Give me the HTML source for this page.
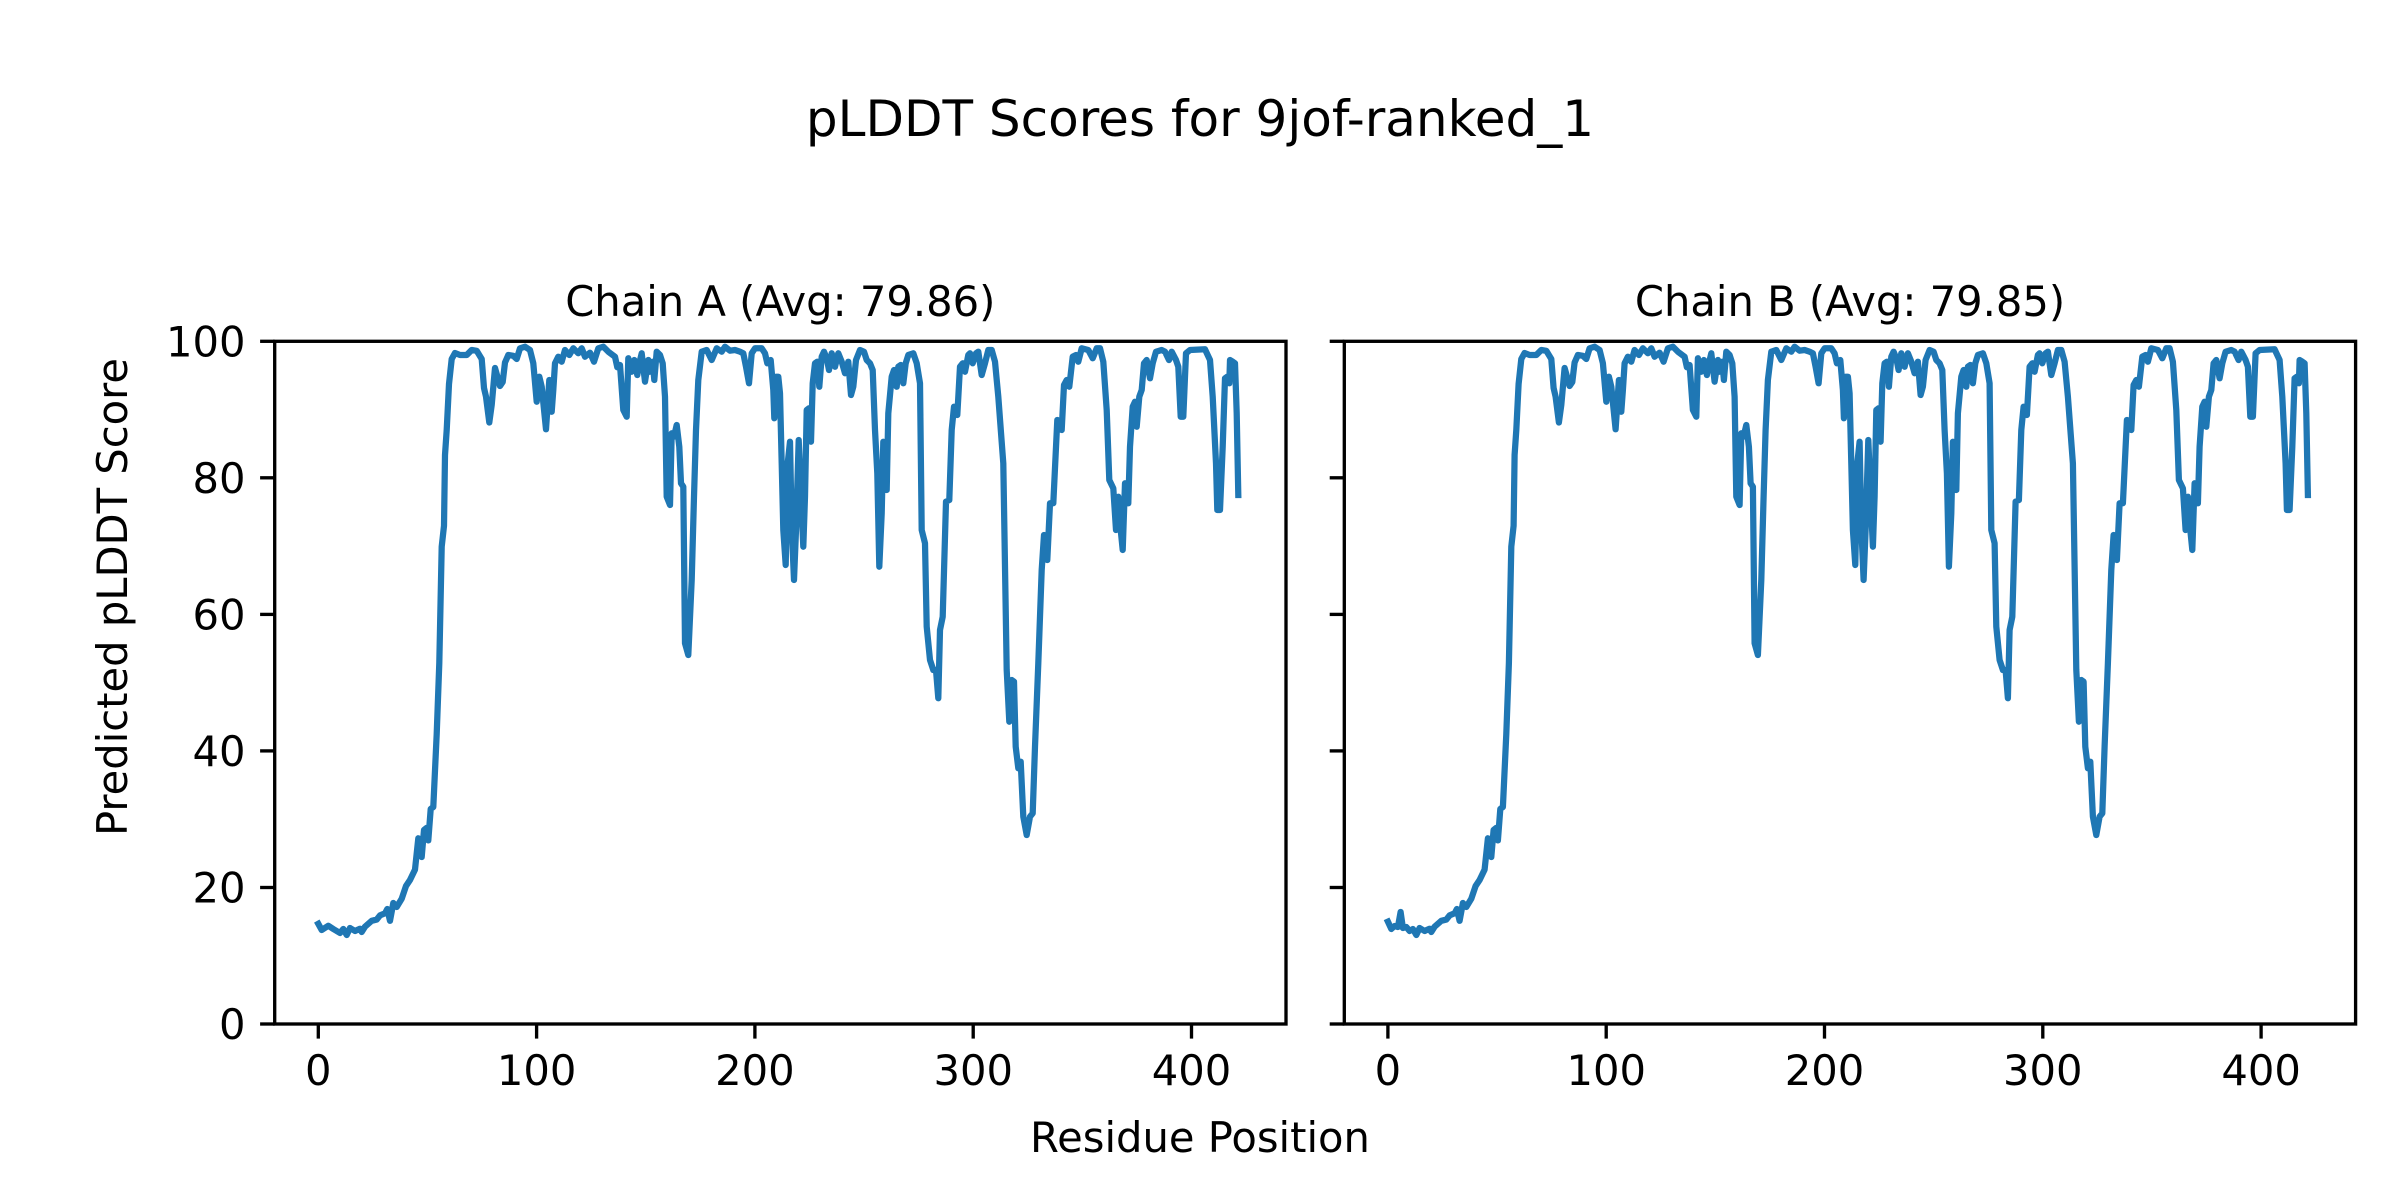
<!DOCTYPE html>
<html>
<head>
<meta charset="utf-8">
<style>
  html, body { margin: 0; padding: 0; background: #ffffff; }
  body { width: 2400px; height: 1200px; overflow: hidden; }
  svg { display: block; }
  text { font-family: "DejaVu Sans", "Liberation Sans", sans-serif; fill: #000; }
</style>
</head>
<body>
<svg width="2400" height="1200" viewBox="0 0 2400 1200" xmlns="http://www.w3.org/2000/svg">
  <rect x="0" y="0" width="2400" height="1200" fill="#ffffff"/>

  <!-- Suptitle -->
  <text x="1200" y="136" font-size="50" text-anchor="middle">pLDDT Scores for 9jof-ranked_1</text>

  <!-- Subplot titles -->
  <text x="780.3" y="316" font-size="41.67" text-anchor="middle">Chain A (Avg: 79.86)</text>
  <text x="1850" y="316" font-size="41.67" text-anchor="middle">Chain B (Avg: 79.85)</text>

  <!-- Left data line -->
  <polyline fill="none" stroke="#1f77b4" stroke-width="6.25" stroke-linejoin="round" stroke-linecap="square"
    points="318.3,923.8 321.7,930 328.3,925.8 333.3,929 340,933 343.3,929 346.7,935 350,928 355,931 360,928.7 361.7,932 365,926.7 371.7,920.8 376.7,919.6 380,915.4 385,913.3 387.3,909 390,920.8 393.3,903 396.7,907 401.7,898.75 406,886 410,880 415,869.6 418.3,838.3 421.7,857 424,830 426.7,827.9 428.3,840.4 430.7,809 433.3,807 436.7,734 439.3,663 441.7,546.7 444,525.8 445,455 446.7,430 449,384 451.7,359 455,353 460,355 466.7,355 471.7,350 476.7,350.8 481.7,359 484,388 486,396.7 489.3,422.5 491.7,405 495,368 500,386 502.7,382 505,362.5 508.3,355 513.3,355.8 516.7,359 520,348.3 525,346.7 530,350 533.3,363.3 536.7,401.7 539.3,376.7 541.7,386.7 546,429.3 549.3,380 551.7,411.7 553.3,390 555,363.3 558.3,356.7 561.7,361.7 565,350 569.3,355 573.3,348.3 578.3,353.3 581.7,348.3 585,356.7 590,352.7 594,361.7 598.3,348.3 603.3,346.7 608.3,351.7 615,356.7 617.3,367.3 620,365 623.3,410 626.7,416.7 628.3,358.3 631.7,371.7 634.3,360 637.3,375 639.3,363.3 641.7,353.3 645,381.7 648.3,360 650,371.7 652.7,361.7 654.3,380 656.7,351.7 660,355 662.7,363.3 665,396.7 666.7,496.7 670,505 671.7,433.3 674,436.7 676.7,425 679.3,446.7 681,483.3 683.3,486.7 685,643.3 688.3,655 691.7,580 694,496.7 696,430 698.3,380 701.7,351.7 706.7,350 711.7,360 716.7,348.3 721.7,351.7 725,346.7 730,350.7 735,350 740,351.7 743.3,353.3 746,366.7 749,383.3 751.7,353.3 755,348.3 761.7,348.3 765,353.3 767.3,363.3 770.7,360 773.3,390 774.3,418.3 776,376.7 778.3,376.7 780,393.3 781.7,463.3 783.3,530 785.7,565 787.7,463.3 790,441.7 791.7,526.7 794,580 796,530 798.7,440 801,496.7 803.3,546.7 805,496.7 806.7,410 809,408.3 811,441.7 812.7,383.3 815,363.3 817.3,361.7 819.3,386.7 821.7,356.7 824,351.7 826.7,358.3 829,370 831.7,353.3 835,366.7 838.3,353.3 841.7,361.7 845,373.3 848.3,361.7 851,395 853.3,386.7 856,360 860,350 864,351.7 866.7,360 870,363.3 872.7,370 875,430 877.3,473.3 879.3,566.7 881.7,513.3 883.3,441.7 886.7,490 888.3,413.3 891.7,376.7 894,370 896.7,386.7 898.3,366.7 900.7,365 903.3,383.3 905.7,363.3 908.3,355 913.3,353.3 916.7,363.3 920,383.3 921.7,530 925,543.3 926.7,626.7 930,660 933.3,670 936,670 938.3,698.3 940,630 942.7,616.7 946,501.7 949.3,500 951.7,430 954,406.7 957.3,415 960,366.7 962.7,363.3 965,371.7 968.3,355 970,353.3 972.7,363.3 976,353.3 978.3,351.7 981.7,375 985,363.3 988.3,350 991.7,350 995,361.7 998.3,396.7 1003.3,463.3 1006.7,670 1009.3,721.7 1011.7,680 1014,681.7 1015.7,746.7 1018.3,768.3 1020.7,761.7 1023.3,816.7 1026.7,835 1030,816.7 1032.7,813.3 1035,746.7 1038.3,663.3 1041.7,570 1044,535 1047.3,560 1050,503.3 1053.3,503.3 1057.3,420 1061.7,430 1064,385 1066.7,380 1069.3,386.7 1072.7,356.7 1076,355 1078.3,361.7 1081.7,348.3 1088.3,350 1092.7,358.3 1096.7,348.3 1100,348.3 1103.3,361.7 1106.7,410 1109.3,480 1113.3,488.3 1116,530 1118.3,496.7 1120.7,530 1122.7,550 1125,483.3 1128.3,503.3 1130,446.7 1132.7,406.7 1135,401.7 1136.7,426.7 1139.3,396.7 1141.7,390 1144,363.3 1146.7,360 1150,378.3 1152.7,363.3 1156,351.7 1161.7,350 1165,351.7 1169,360 1171.7,351.7 1176,360 1178.3,366.7 1180.7,416.7 1183.3,416.7 1186,353.3 1190,350 1205,349.3 1210,360 1212.7,396.7 1216,463.3 1217.3,510 1220,510 1222.7,446.7 1225,378.3 1227.3,376.7 1229.3,383.3 1230,360 1232.7,361.7 1235,363.3 1236.7,413.3 1238.3,495"/>

  <!-- Right data line (shifted) -->
  <g transform="translate(1069.6,0)">
  <polyline fill="none" stroke="#1f77b4" stroke-width="6.25" stroke-linejoin="round" stroke-linecap="square"
    points="318.3,921.6 321.7,929 325,926 328.3,927 331,912 333.3,928 336.7,927 340,931 343.3,929 346.7,935 350,928 355,931 360,928.7 361.7,932 365,926.7 371.7,920.8 376.7,919.6 380,915.4 385,913.3 387.3,909 390,920.8 393.3,903 396.7,907 401.7,898.75 406,886 410,880 415,869.6 418.3,838.3 421.7,857 424,830 426.7,827.9 428.3,840.4 430.7,809 433.3,807 436.7,734 439.3,663 441.7,546.7 444,525.8 445,455 446.7,430 449,384 451.7,359 455,353 460,355 466.7,355 471.7,350 476.7,350.8 481.7,359 484,388 486,396.7 489.3,422.5 491.7,405 495,368 500,386 502.7,382 505,362.5 508.3,355 513.3,355.8 516.7,359 520,348.3 525,346.7 530,350 533.3,363.3 536.7,401.7 539.3,376.7 541.7,386.7 546,429.3 549.3,380 551.7,411.7 553.3,390 555,363.3 558.3,356.7 561.7,361.7 565,350 569.3,355 573.3,348.3 578.3,353.3 581.7,348.3 585,356.7 590,352.7 594,361.7 598.3,348.3 603.3,346.7 608.3,351.7 615,356.7 617.3,367.3 620,365 623.3,410 626.7,416.7 628.3,358.3 631.7,371.7 634.3,360 637.3,375 639.3,363.3 641.7,353.3 645,381.7 648.3,360 650,371.7 652.7,361.7 654.3,380 656.7,351.7 660,355 662.7,363.3 665,396.7 666.7,496.7 670,505 671.7,433.3 674,436.7 676.7,425 679.3,446.7 681,483.3 683.3,486.7 685,643.3 688.3,655 691.7,580 694,496.7 696,430 698.3,380 701.7,351.7 706.7,350 711.7,360 716.7,348.3 721.7,351.7 725,346.7 730,350.7 735,350 740,351.7 743.3,353.3 746,366.7 749,383.3 751.7,353.3 755,348.3 761.7,348.3 765,353.3 767.3,363.3 770.7,360 773.3,390 774.3,418.3 776,376.7 778.3,376.7 780,393.3 781.7,463.3 783.3,530 785.7,565 787.7,463.3 790,441.7 791.7,526.7 794,580 796,530 798.7,440 801,496.7 803.3,546.7 805,496.7 806.7,410 809,408.3 811,441.7 812.7,383.3 815,363.3 817.3,361.7 819.3,386.7 821.7,356.7 824,351.7 826.7,358.3 829,370 831.7,353.3 835,366.7 838.3,353.3 841.7,361.7 845,373.3 848.3,361.7 851,395 853.3,386.7 856,360 860,350 864,351.7 866.7,360 870,363.3 872.7,370 875,430 877.3,473.3 879.3,566.7 881.7,513.3 883.3,441.7 886.7,490 888.3,413.3 891.7,376.7 894,370 896.7,386.7 898.3,366.7 900.7,365 903.3,383.3 905.7,363.3 908.3,355 913.3,353.3 916.7,363.3 920,383.3 921.7,530 925,543.3 926.7,626.7 930,660 933.3,670 936,670 938.3,698.3 940,630 942.7,616.7 946,501.7 949.3,500 951.7,430 954,406.7 957.3,415 960,366.7 962.7,363.3 965,371.7 968.3,355 970,353.3 972.7,363.3 976,353.3 978.3,351.7 981.7,375 985,363.3 988.3,350 991.7,350 995,361.7 998.3,396.7 1003.3,463.3 1006.7,670 1009.3,721.7 1011.7,680 1014,681.7 1015.7,746.7 1018.3,768.3 1020.7,761.7 1023.3,816.7 1026.7,835 1030,816.7 1032.7,813.3 1035,746.7 1038.3,663.3 1041.7,570 1044,535 1047.3,560 1050,503.3 1053.3,503.3 1057.3,420 1061.7,430 1064,385 1066.7,380 1069.3,386.7 1072.7,356.7 1076,355 1078.3,361.7 1081.7,348.3 1088.3,350 1092.7,358.3 1096.7,348.3 1100,348.3 1103.3,361.7 1106.7,410 1109.3,480 1113.3,488.3 1116,530 1118.3,496.7 1120.7,530 1122.7,550 1125,483.3 1128.3,503.3 1130,446.7 1132.7,406.7 1135,401.7 1136.7,426.7 1139.3,396.7 1141.7,390 1144,363.3 1146.7,360 1150,378.3 1152.7,363.3 1156,351.7 1161.7,350 1165,351.7 1169,360 1171.7,351.7 1176,360 1178.3,366.7 1180.7,416.7 1183.3,416.7 1186,353.3 1190,350 1205,349.3 1210,360 1212.7,396.7 1216,463.3 1217.3,510 1220,510 1222.7,446.7 1225,378.3 1227.3,376.7 1229.3,383.3 1230,360 1232.7,361.7 1235,363.3 1236.7,413.3 1238.3,495"/>
  </g>

  <!-- Axes frames -->
  <rect x="274.7" y="341.3" width="1011.3" height="682.7" fill="none" stroke="#000" stroke-width="3.33"/>
  <rect x="1344.3" y="341.3" width="1011.3" height="682.7" fill="none" stroke="#000" stroke-width="3.33"/>

  <!-- Y ticks (both axes) -->
  <g stroke="#000" stroke-width="3.33">
    <line x1="260.1" y1="1024" x2="274.7" y2="1024"/>
    <line x1="260.1" y1="887.5" x2="274.7" y2="887.5"/>
    <line x1="260.1" y1="750.9" x2="274.7" y2="750.9"/>
    <line x1="260.1" y1="614.4" x2="274.7" y2="614.4"/>
    <line x1="260.1" y1="477.8" x2="274.7" y2="477.8"/>
    <line x1="260.1" y1="341.3" x2="274.7" y2="341.3"/>
    <line x1="1329.7" y1="1024" x2="1344.3" y2="1024"/>
    <line x1="1329.7" y1="887.5" x2="1344.3" y2="887.5"/>
    <line x1="1329.7" y1="750.9" x2="1344.3" y2="750.9"/>
    <line x1="1329.7" y1="614.4" x2="1344.3" y2="614.4"/>
    <line x1="1329.7" y1="477.8" x2="1344.3" y2="477.8"/>
    <line x1="1329.7" y1="341.3" x2="1344.3" y2="341.3"/>
    <!-- X ticks -->
    <line x1="318.3" y1="1024" x2="318.3" y2="1038.6"/>
    <line x1="536.6" y1="1024" x2="536.6" y2="1038.6"/>
    <line x1="754.9" y1="1024" x2="754.9" y2="1038.6"/>
    <line x1="973.2" y1="1024" x2="973.2" y2="1038.6"/>
    <line x1="1191.5" y1="1024" x2="1191.5" y2="1038.6"/>
    <line x1="1387.9" y1="1024" x2="1387.9" y2="1038.6"/>
    <line x1="1606.2" y1="1024" x2="1606.2" y2="1038.6"/>
    <line x1="1824.5" y1="1024" x2="1824.5" y2="1038.6"/>
    <line x1="2042.8" y1="1024" x2="2042.8" y2="1038.6"/>
    <line x1="2261.1" y1="1024" x2="2261.1" y2="1038.6"/>
  </g>

  <!-- Y tick labels -->
  <g font-size="41.67" text-anchor="end">
    <text x="245.5" y="1039">0</text>
    <text x="245.5" y="902.5">20</text>
    <text x="245.5" y="765.9">40</text>
    <text x="245.5" y="629.4">60</text>
    <text x="245.5" y="492.8">80</text>
    <text x="245.5" y="356.3">100</text>
  </g>

  <!-- X tick labels -->
  <g font-size="41.67" text-anchor="middle">
    <text x="318.3" y="1085">0</text>
    <text x="536.6" y="1085">100</text>
    <text x="754.9" y="1085">200</text>
    <text x="973.2" y="1085">300</text>
    <text x="1191.5" y="1085">400</text>
    <text x="1387.9" y="1085">0</text>
    <text x="1606.2" y="1085">100</text>
    <text x="1824.5" y="1085">200</text>
    <text x="2042.8" y="1085">300</text>
    <text x="2261.1" y="1085">400</text>
  </g>

  <!-- Axis labels -->
  <text x="1200" y="1152" font-size="41.67" text-anchor="middle">Residue Position</text>
  <text transform="translate(127,597) rotate(-90)" font-size="41.67" text-anchor="middle">Predicted pLDDT Score</text>
</svg>
</body>
</html>
